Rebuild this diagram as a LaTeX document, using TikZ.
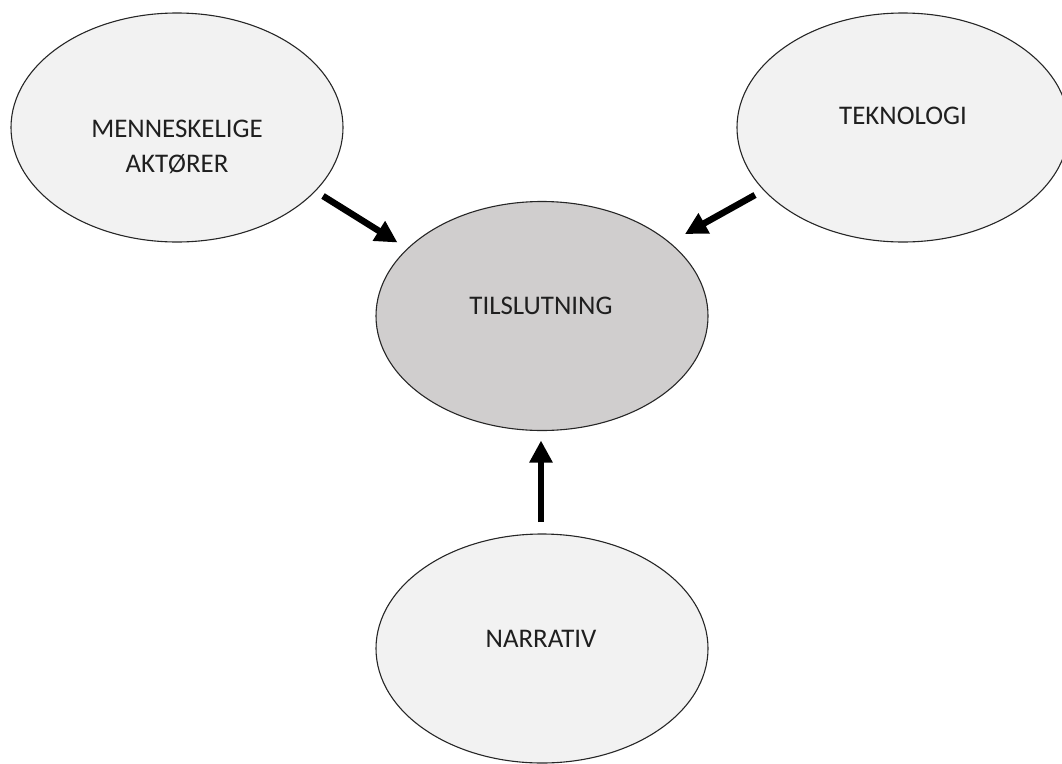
\documentclass[tikz,border=0pt]{standalone}
\usepackage{fontspec}
\setmainfont{Carlito}
\usetikzlibrary{shapes.geometric,arrows.meta}
\definecolor{bubble}{HTML}{F2F2F2}
\definecolor{core}{HTML}{D0CECE}
\definecolor{ink}{HTML}{1F1F1F}
\tikzset{
  bubble/.style={ellipse, draw=black!85, line width=1.1pt, fill=bubble,
    minimum width=332pt, minimum height=229pt, inner sep=0pt},
  corebubble/.style={bubble, fill=core},
  lbl/.style={text=ink, align=center, inner sep=0pt,
    font=\fontsize{26.9}{35.3}\selectfont},
  push/.style={line width=6.5pt, draw=black,
    -{Triangle[length=22pt,width=22pt]}}
}
\begin{document}
\begin{tikzpicture}[x=1pt,y=-1pt]
  \useasboundingbox (0,0) rectangle (1062,763);
  % four bubbles
  \node[bubble]     (actors)  at (177,127.5) {};
  \node[bubble]     (tech)    at (903,127.5) {};
  \node[corebubble] (support) at (542,316)   {};
  \node[bubble]     (story)   at (542,648.5) {};
  % labels
  \node[lbl] (actorsT)  at (177,146.6) {MENNESKELIGE\\AKTØRER};
  \node[lbl] (techT)    at (903,115.7) {TEKNOLOGI};
  \node[lbl] (supportT) at (541,305.7) {TILSLUTNING};
  \node[lbl] (storyT)   at (541,639)   {NARRATIV};
  % arrow end points
  \coordinate (a1s) at (323,196);
  \coordinate (a1e) at (397.5,242.5);
  \coordinate (a2s) at (755,195);
  \coordinate (a2e) at (685,234);
  \coordinate (a3s) at (541,522);
  \coordinate (a3e) at (541,440.5);
  % arrows towards the centre
  \draw[push] (a1s) -- (a1e);
  \draw[push] (a2s) -- (a2e);
  \draw[push] (a3s) -- (a3e);
\end{tikzpicture}
\end{document}
